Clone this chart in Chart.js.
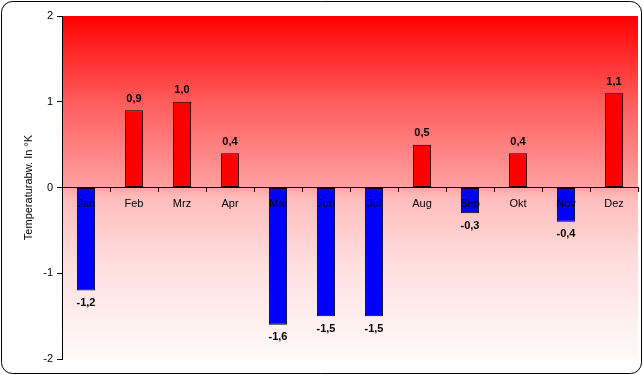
<!DOCTYPE html>
<html>
<head>
<meta charset="utf-8">
<script src="https://cdn.jsdelivr.net/npm/chart.js@4"></script>
<style>
html,body{margin:0;padding:0;background:#fff;}
#wrap{width:643px;height:375px;position:relative;}
</style>
</head>
<body>
<div id="wrap"><canvas id="c" width="643" height="375"></canvas></div>
<script>
const months = ['Jan','Feb','Mrz','Apr','Mai','Jun','Jul','Aug','Sep','Okt','Nov','Dez'];
const deviations = [-1.2, 0.9, 1.0, 0.4, -1.6, -1.5, -1.5, 0.5, -0.3, 0.4, -0.4, 1.1];
const yTicks = [-2, -1, 0, 1, 2];
const yTitle = 'Temperaturabw. In °K';

const FONT = 'Liberation Sans, Arial, sans-serif';

const bgPlugin = {
  id: 'bg',
  beforeDraw(chart) {
    const {ctx, chartArea: a} = chart;
    ctx.save();
    ctx.fillStyle = '#fff';
    ctx.fillRect(0, 0, chart.width, chart.height);
    const g = ctx.createLinearGradient(0, a.top, 0, a.bottom);
    g.addColorStop(0, '#ff0000');
    g.addColorStop(0.25, '#ff5c5c');
    g.addColorStop(0.49, '#ff9e9e');
    g.addColorStop(0.53, '#ffbcbc');
    g.addColorStop(0.72, '#ffdede');
    g.addColorStop(1, '#fffafa');
    ctx.fillStyle = g;
    ctx.fillRect(a.left, a.top, a.right - a.left, a.bottom - a.top);
    ctx.restore();
  },
  afterDraw(chart) {
    const ctx = chart.ctx;
    ctx.save();
    ctx.strokeStyle = '#000';
    ctx.lineWidth = 1;
    ctx.beginPath();
    ctx.roundRect(1.5, 1.5, chart.width - 3, chart.height - 3, 11);
    ctx.stroke();
    ctx.restore();
  }
};

const labelPlugin = {
  id: 'vals',
  afterDraw(chart) {
    const ctx = chart.ctx;
    const meta = chart.getDatasetMeta(0);
    ctx.save();
    ctx.font = 'bold 11px ' + FONT;
    ctx.fillStyle = '#000';
    ctx.textAlign = 'center';
    meta.data.forEach((bar, i) => {
      const v = deviations[i];
      const txt = v.toFixed(1).replace('.', ',');
      if (v >= 0) {
        ctx.textBaseline = 'bottom';
        ctx.fillText(txt, bar.x, bar.y - 6);
      } else {
        ctx.textBaseline = 'top';
        ctx.fillText(txt, bar.x, bar.y + 7);
      }
    });
    ctx.restore();
  }
};

new Chart(document.getElementById('c'), {
  type: 'bar',
  data: {
    labels: months,
    datasets: [{
      data: deviations,
      backgroundColor: deviations.map(v => v >= 0 ? '#ff0000' : '#0000ff'),
      borderColor: '#000',
      borderWidth: 1,
      borderSkipped: false,
      categoryPercentage: 1,
      barPercentage: 0.38
    }]
  },
  options: {
    responsive: false,
    animation: false,
    devicePixelRatio: 1,
    layout: {padding: {top: 16, bottom: 16, right: 5, left: 0}},
    plugins: {legend: {display: false}, tooltip: {enabled: false}},
    scales: {
      x: {
        position: {y: 0},
        offset: true,
        grid: {display: true, drawOnChartArea: false, drawTicks: true, tickLength: 4, color: '#000', offset: true, z: 1},
        border: {display: true, color: '#000', width: 1, z: 1},
        ticks: {color: '#000', font: {family: FONT, size: 11}, padding: 6, maxRotation: 0, autoSkip: false, z: 1}
      },
      y: {
        min: -2, max: 2,
        afterBuildTicks(scale) { scale.ticks = yTicks.map(v => ({value: v})); },
        afterFit(scale) { scale.width = 62; },
        grid: {drawOnChartArea: false, drawTicks: true, tickLength: 5, color: '#000'},
        border: {display: true, color: '#000', width: 1},
        ticks: {color: '#000', font: {family: FONT, size: 11}, padding: 4},
        title: {display: true, text: yTitle, color: '#000', font: {family: FONT, size: 11}, padding: {top: 22, bottom: 0}}
      }
    }
  },
  plugins: [bgPlugin, labelPlugin]
});
</script>
</body>
</html>
